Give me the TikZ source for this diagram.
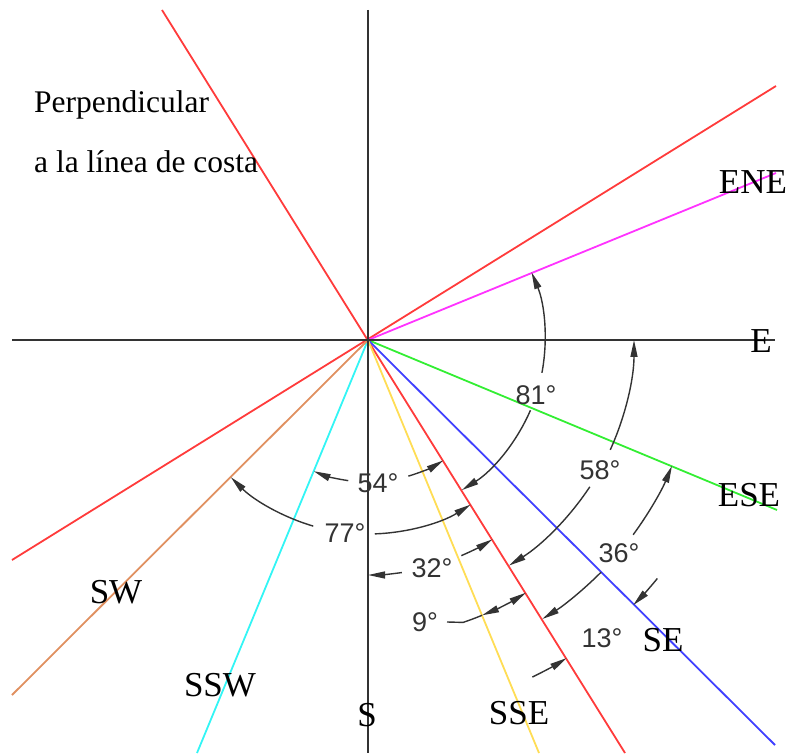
\documentclass[tikz,border=0pt]{standalone}
\usepackage{fontspec}
\setmainfont{Liberation Serif}
\newfontfamily\dimfont{Liberation Sans}
\usetikzlibrary{arrows.meta,calc}
\definecolor{cred}{HTML}{FF3B3B}
\definecolor{cmag}{HTML}{FF33FF}
\definecolor{cgreen}{HTML}{33EE33}
\definecolor{cblue}{HTML}{4040FF}
\definecolor{cyellow}{HTML}{FFDD55}
\definecolor{ccyan}{HTML}{33F5F5}
\definecolor{corange}{HTML}{E09060}
\definecolor{caxis}{HTML}{333333}
\definecolor{cdim}{HTML}{333333}
\begin{document}
\begin{tikzpicture}[x=1pt,y=1pt,
  >={Triangle[length=17pt,width=7pt]},
  ray/.style={line width=1.8pt},
  axisline/.style={draw=caxis,line width=1.9pt},
  dimline/.style={draw=cdim,line width=1.4pt},
  compass/.style={font=\fontsize{35}{40}\selectfont,text=black,inner sep=0pt},
  dimlabel/.style={font=\dimfont\fontsize{27}{30}\selectfont,text=cdim,inner sep=0pt},
  note/.style={font=\fontsize{31.5}{34}\selectfont,text=black,inner sep=0pt,anchor=base west}]
\useasboundingbox (0,0) rectangle (789,753);
\coordinate (O) at (368,413);
% end points
\coordinate (Wend) at (12,413);
\coordinate (Eend) at (775,413);
\coordinate (Nend) at (368,743);
\coordinate (Send) at (368,0);
\coordinate (Ptop) at (162,743);
\coordinate (Pbot) at (625,0);
\coordinate (Cne) at (776,667);
\coordinate (Csw) at (12,193);
\coordinate (ENEend) at (776,580);
\coordinate (ESEend) at (777,243);
\coordinate (SEend) at (775,8);
\coordinate (SSEend) at (539,0);
\coordinate (SSWend) at (197,0);
\coordinate (SWend) at (12,58);
% coloured rays
\draw[ray,cred] (Ptop) -- (Pbot);
\draw[ray,cred] (Csw) -- (Cne);
\draw[ray,cmag] (O) -- (ENEend);
\draw[ray,cgreen] (O) -- (ESEend);
\draw[ray,cblue] (O) -- (SEend);
\draw[ray,cyellow] (O) -- (SSEend);
\draw[ray,ccyan] (O) -- (SSWend);
\draw[ray,corange] (O) -- (SWend);
% axes
\draw[axisline] (Wend) -- (Eend);
\draw[axisline] (Nend) -- (Send);
% labels
\node[compass] (lENE) at (753,571) {ENE};
\node[compass] (lE) at (761,412) {E};
\node[compass] (lESE) at (749,258) {ESE};
\node[compass] (lSE) at (663,113) {SE};
\node[compass] (lSSE) at (519,40) {SSE};
\node[compass] (lS) at (367,38) {S};
\node[compass] (lSSW) at (220,68) {SSW};
\node[compass] (lSW) at (116,161) {SW};
\node[note] (perp1) at (34,640) {Perpendicular};
\node[note] (perp2) at (34,580) {a la línea de costa};
% dimension labels
\node[dimlabel] (d81) at (536,358) {81°};
\node[dimlabel] (d58) at (600,283) {58°};
\node[dimlabel] (d36) at (619,200) {36°};
\node[dimlabel] (d13) at (602,115) {13°};
\node[dimlabel] (d32) at (432,185) {32°};
\node[dimlabel] (d9) at (425,131) {9°};
\node[dimlabel] (d54) at (378,270) {54°};
\node[dimlabel] (d77) at (345,220) {77°};
% 81
\draw[dimline,->] ($(O)+(-10.7:177)$) arc[start angle=-10.7,end angle=22.5,radius=177];
\draw[dimline,->] ($(O)+(-23.4:177)$) arc[start angle=-23.4,end angle=-58,radius=177];
% 58
\draw[dimline,->] ($(O)+(-24.4:266)$) arc[start angle=-24.4,end angle=0,radius=266];
\draw[dimline,->] ($(O)+(-33.5:266)$) arc[start angle=-33.5,end angle=-58,radius=266];
% 36
\draw[dimline,->] ($(O)+(-36.3:329)$) arc[start angle=-36.3,end angle=-22.5,radius=329];
\draw[dimline,->] ($(O)+(-44.9:329)$) arc[start angle=-44.9,end angle=-58,radius=329];
% 13
\draw[dimline,->] ($(O)+(-39.5:375)$) arc[start angle=-39.5,end angle=-45,radius=375];
\draw[dimline,->] ($(O)+(-64:375)$) arc[start angle=-64,end angle=-58,radius=375];
% 9
\coordinate (L9) at (447,131);
\draw[dimline,<->] ($(O)+(-67.5:298)$) arc[start angle=-67.5,end angle=-58,radius=298];
\draw[dimline] (L9) -- ($(O)+(-71.4:298)$) arc[start angle=-71.4,end angle=-67.5,radius=298];
% 32
\draw[dimline,->] ($(O)+(-81.7:235)$) arc[start angle=-81.7,end angle=-90,radius=235];
\draw[dimline,->] ($(O)+(-66.6:235)$) arc[start angle=-66.6,end angle=-58,radius=235];
% 54
\draw[dimline,->] ($(O)+(-98:142)$) arc[start angle=-98,end angle=-112.5,radius=142];
\draw[dimline,->] ($(O)+(-73.5:142)$) arc[start angle=-73.5,end angle=-58,radius=142];
% 77
\draw[dimline,->] ($(O)+(-106.4:194)$) arc[start angle=-106.4,end angle=-135,radius=194];
\draw[dimline,->] ($(O)+(-88:194)$) arc[start angle=-88,end angle=-58,radius=194];
\end{tikzpicture}
\end{document}
